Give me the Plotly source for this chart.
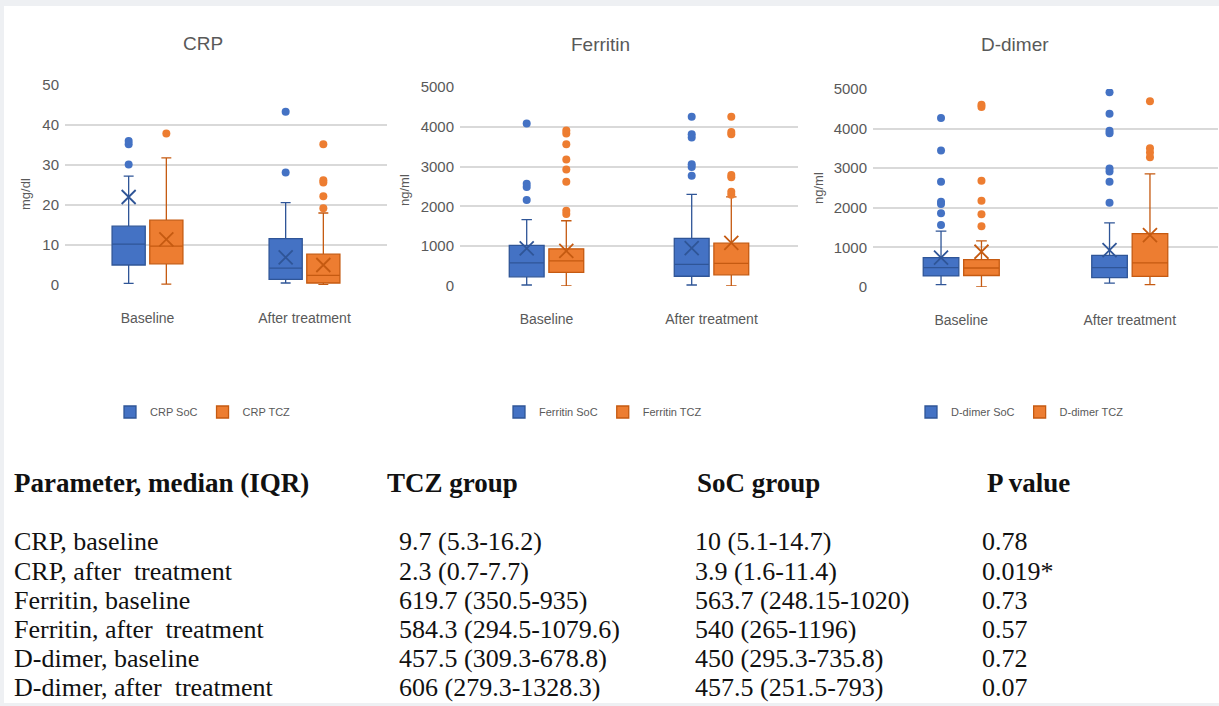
import plotly.graph_objects as go

W, H = 1219, 706

categories = ["Baseline", "After treatment"]

# ---------------- CRP (mg/dl) ----------------
crp_soc_q1 = [5.0, 1.4]
crp_soc_median = [10.2, 4.2]
crp_soc_q3 = [14.7, 11.6]
crp_soc_lower = [0.4, 0.5]
crp_soc_upper = [27.2, 20.6]
crp_soc_mean = [22.0, 6.9]
crp_soc_outliers = [[35.2, 36.0, 30.1], [43.3, 28.1]]

crp_tcz_q1 = [5.3, 0.5]
crp_tcz_median = [9.7, 2.4]
crp_tcz_q3 = [16.2, 7.7]
crp_tcz_lower = [0.2, 0.1]
crp_tcz_upper = [31.8, 18.0]
crp_tcz_mean = [11.4, 5.0]
crp_tcz_outliers = [[37.9], [35.2, 26.2, 25.6, 22.2, 19.2]]

# ---------------- Ferritin (ng/ml) ----------------
fer_soc_q1 = [230, 245]
fer_soc_median = [580, 545]
fer_soc_q3 = [1020, 1196]
fer_soc_lower = [25, 25]
fer_soc_upper = [1670, 2300]
fer_soc_mean = [945, 950]
fer_soc_outliers = [[4080, 2570, 2490, 2160], [4250, 3810, 3730, 3060, 2990, 2770]]

fer_tcz_q1 = [340, 280]
fer_tcz_median = [630, 570]
fer_tcz_q3 = [935, 1075]
fer_tcz_lower = [0, 0]
fer_tcz_upper = [1640, 2240]
fer_tcz_mean = [880, 1085]
fer_tcz_outliers = [[3910, 3830, 3560, 3180, 2930, 2620, 1890, 1810],
                    [4250, 3870, 3810, 2790, 2730, 2370, 2290]]

# ---------------- D-dimer (ng/ml) ----------------
dd_soc_q1 = [280, 236]
dd_soc_median = [490, 490]
dd_soc_q3 = [740, 800]
dd_soc_lower = [60, 100]
dd_soc_upper = [1410, 1620]
dd_soc_mean = [740, 930]
dd_soc_outliers = [[4265, 3445, 2660, 2155, 2095, 1860, 1565],
                   [4915, 4375, 3945, 3885, 2995, 2915, 2660, 2130]]

dd_tcz_q1 = [290, 270]
dd_tcz_median = [480, 608]
dd_tcz_q3 = [690, 1350]
dd_tcz_lower = [0, 60]
dd_tcz_upper = [1165, 2855]
dd_tcz_mean = [890, 1310]
dd_tcz_outliers = [[4605, 4545, 2685, 2180, 1840, 1535], [4690, 3505, 3395, 3275]]

panel_titles = ["CRP", "Ferritin", "D-dimer"]
panel_units = ["mg/dl", "ng/ml", "ng/ml"]
panel_ranges = [[0, 50], [0, 5000], [0, 5000]]
panel_dticks = [10, 1000, 1000]

# ---------------- Table ----------------
table_header = ["Parameter, median (IQR)", "TCZ group", "SoC group", "P value"]
table_params = ["CRP, baseline", "CRP, after  treatment", "Ferritin, baseline",
                "Ferritin, after  treatment", "D-dimer, baseline", "D-dimer, after  treatment"]
table_tcz = ["9.7 (5.3-16.2)", "2.3 (0.7-7.7)", "619.7 (350.5-935)",
             "584.3 (294.5-1079.6)", "457.5 (309.3-678.8)", "606 (279.3-1328.3)"]
table_soc = ["10 (5.1-14.7)", "3.9 (1.6-11.4)", "563.7 (248.15-1020)",
             "540 (265-1196)", "450 (295.3-735.8)", "457.5 (251.5-793)"]
table_p = ["0.78", "0.019*", "0.73", "0.57", "0.72", "0.07"]

# ---------------- styling ----------------
BLUE, BLUE_D = "#4472C4", "#2F5597"
ORANGE, ORANGE_D = "#ED7D31", "#C55A11"
GRID = "#D9D9D9"
TXT = "#595959"
CHART_FONT = "Liberation Sans, Arial, sans-serif"
SERIF = "Liberation Serif, Times New Roman, serif"


def X(px):
    return px / W


def Y(py):
    return 1 - py / H


panels = [
    dict(soc=(crp_soc_q1, crp_soc_median, crp_soc_q3, crp_soc_lower, crp_soc_upper, crp_soc_mean, crp_soc_outliers),
         tcz=(crp_tcz_q1, crp_tcz_median, crp_tcz_q3, crp_tcz_lower, crp_tcz_upper, crp_tcz_mean, crp_tcz_outliers)),
    dict(soc=(fer_soc_q1, fer_soc_median, fer_soc_q3, fer_soc_lower, fer_soc_upper, fer_soc_mean, fer_soc_outliers),
         tcz=(fer_tcz_q1, fer_tcz_median, fer_tcz_q3, fer_tcz_lower, fer_tcz_upper, fer_tcz_mean, fer_tcz_outliers)),
    dict(soc=(dd_soc_q1, dd_soc_median, dd_soc_q3, dd_soc_lower, dd_soc_upper, dd_soc_mean, dd_soc_outliers),
         tcz=(dd_tcz_q1, dd_tcz_median, dd_tcz_q3, dd_tcz_lower, dd_tcz_upper, dd_tcz_mean, dd_tcz_outliers)),
]

# plot-area pixel boxes (left, right, top, bottom)
areas = [(65, 387, 85, 285), (460, 798, 87, 286), (873, 1218, 89, 287)]
title_pos = [(203, 43), (600, 45), (1015, 45)]
ytitle_pos = [(25, 194), (405, 190), (818, 188)]
legend_x = [203, 603, 1020]

fig = go.Figure()

for i, p in enumerate(panels):
    ax = "" if i == 0 else str(i + 1)
    leg = "legend" if i == 0 else "legend%d" % (i + 1)
    for key, label, col, dcol in [("soc", "SoC", BLUE, BLUE_D), ("tcz", "TCZ", ORANGE, ORANGE_D)]:
        q1, med, q3, lo, hi, mean, outl = p[key]
        fig.add_trace(go.Box(
            x=categories, y=outl, q1=q1, median=med, q3=q3,
            lowerfence=lo, upperfence=hi,
            boxpoints="outliers", jitter=0, pointpos=0,
            name="%s %s" % (panel_titles[i], label),
            fillcolor=col, line=dict(color=dcol, width=1.3),
            marker=dict(color=col, size=8),
            whiskerwidth=0.3, offsetgroup=key,
            xaxis="x" + ax, yaxis="y" + ax, legend=leg,
            hoverinfo="skip",
        ))
        fig.add_trace(go.Scatter(
            x=categories, y=mean, mode="markers",
            marker=dict(symbol="x-thin-open", size=14, color=dcol, line=dict(color=dcol, width=1.8)),
            offsetgroup=key, showlegend=False,
            xaxis="x" + ax, yaxis="y" + ax, hoverinfo="skip",
        ))

layout = dict(
    width=W, height=H, autosize=False,
    margin=dict(l=0, r=0, t=0, b=0, pad=0, autoexpand=False),
    paper_bgcolor="#EEF0F3", plot_bgcolor="white",
    boxmode="group", boxgap=0.52, boxgroupgap=0.12,
    scattermode="group", scattergap=0.52,
    showlegend=True,
    shapes=[dict(type="rect", xref="paper", yref="paper", x0=X(4), x1=1, y0=Y(703), y1=Y(6),
                 fillcolor="white", line=dict(width=0), layer="below")],
    annotations=[],
)

for i in range(3):
    ax = "" if i == 0 else str(i + 1)
    l, r, t, b = areas[i]
    layout["xaxis" + ax] = dict(
        domain=[X(l), X(r)], anchor="y" + ax, type="category", automargin=False,
        showgrid=False, showline=False, zeroline=False, ticks="",
        tickfont=dict(family=CHART_FONT, size=14, color=TXT), ticklabelstandoff=23,
        fixedrange=True,
    )
    layout["yaxis" + ax] = dict(
        domain=[Y(b), Y(t)], anchor="x" + ax, range=panel_ranges[i], dtick=panel_dticks[i],
        automargin=False,
        showgrid=True, gridcolor=GRID, gridwidth=1.5, zeroline=False, showline=False, ticks="",
        tickfont=dict(family=CHART_FONT, size=15, color=TXT), ticklabelstandoff=5,
        fixedrange=True,
    )
    leg = "legend" if i == 0 else "legend%d" % (i + 1)
    layout[leg] = dict(
        orientation="h", x=X(legend_x[i]), xanchor="center", y=Y(412), yanchor="middle",
        font=dict(family=CHART_FONT, size=11, color=TXT), bgcolor="rgba(0,0,0,0)",
        itemwidth=30, tracegroupgap=0,
    )
    layout["annotations"].append(dict(
        text=panel_titles[i], x=X(title_pos[i][0]), y=Y(title_pos[i][1]), xref="paper", yref="paper",
        showarrow=False, xanchor="center", yanchor="middle",
        font=dict(family=CHART_FONT, size=19, color=TXT)))
    layout["annotations"].append(dict(
        text=panel_units[i], x=X(ytitle_pos[i][0]), y=Y(ytitle_pos[i][1]), xref="paper", yref="paper",
        showarrow=False, xanchor="center", yanchor="middle", textangle=-90,
        font=dict(family=CHART_FONT, size=13, color=TXT)))

# table
col_head_x = [12, 385, 695, 985]
col_data_x = [12, 397, 693, 980]
header_y = 483
row_y = [541, 571, 600, 629, 658, 687]
for j, h in enumerate(table_header):
    layout["annotations"].append(dict(
        text="<b>%s</b>" % h, x=X(col_head_x[j]), y=Y(header_y), xref="paper", yref="paper",
        showarrow=False, xanchor="left", yanchor="middle",
        font=dict(family=SERIF, size=27, color="#111111")))
for k in range(len(table_params)):
    for j, col in enumerate([table_params, table_tcz, table_soc, table_p]):
        layout["annotations"].append(dict(
            text=col[k], x=X(col_data_x[j]), y=Y(row_y[k]), xref="paper", yref="paper",
            showarrow=False, xanchor="left", yanchor="middle",
            font=dict(family=SERIF, size=26, color="#111111")))

fig.update_layout(**layout)
fig.write_html(
    "out.html",
    config={"displayModeBar": False},
    post_script="document.body.style.margin='0';document.body.style.padding='0';"
                "document.documentElement.style.overflow='hidden';",
)
